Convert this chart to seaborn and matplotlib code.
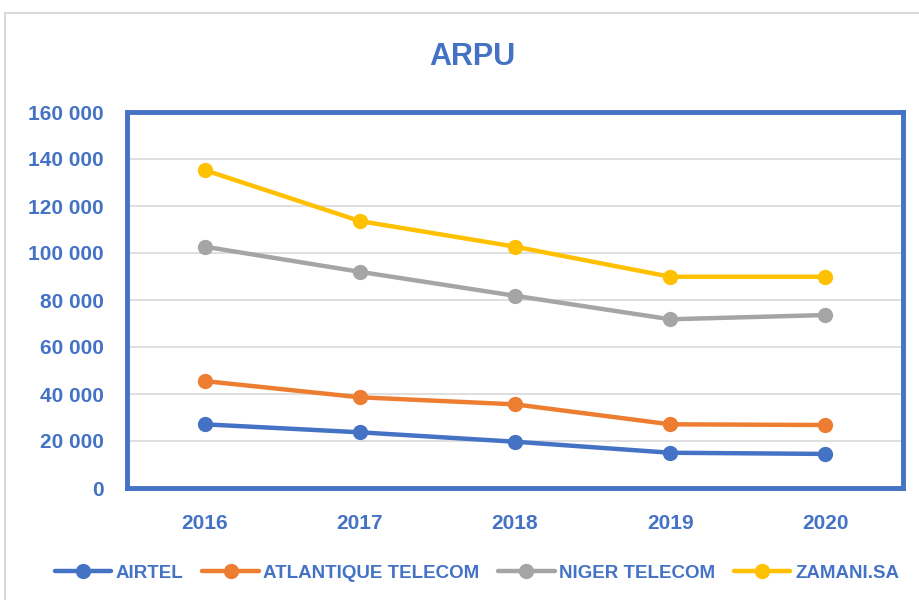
import numpy as np
import pandas as pd
import matplotlib.pyplot as plt
import matplotlib.ticker as mticker
import seaborn as sns
from matplotlib.patches import Rectangle

# donnees
annees = [2016, 2017, 2018, 2019, 2020]
airtel = [27100, 23700, 19700, 15000, 14500]
atlantique = [45500, 38600, 35600, 27100, 26800]
niger = [102700, 92000, 81800, 71800, 73600]
zamani = [135300, 113600, 102700, 89900, 89900]
operateurs = ["AIRTEL", "ATLANTIQUE TELECOM", "NIGER TELECOM", "ZAMANI.SA"]
couleurs = ["#4472C4", "#ED7D31", "#A5A5A5", "#FFC000"]

bleu = "#4472C4"

df = pd.concat([
    pd.DataFrame({"annee": annees, "arpu": v, "op": nom})
    for nom, v in zip(operateurs, [airtel, atlantique, niger, zamani])
])

sns.set_style("white")
plt.rcParams['font.family'] = ['Liberation Sans', 'DejaVu Sans']

fig = plt.figure(figsize=(9.19, 6.0), dpi=100)
ax = fig.add_axes([127/919, 1-488/600, (903-127)/919, (488-112)/600])

# cadre gris clair autour de la figure
fig.patches.append(Rectangle((5/919, -0.01), 1, 1.01-13/600, transform=fig.transFigure,
                             fill=False, edgecolor="#D9D9D9", linewidth=1.5))

sns.lineplot(data=df, x="annee", y="arpu", hue="op", palette=couleurs,
             marker="o", markersize=11, markeredgewidth=0, linewidth=3.2,
             ax=ax, zorder=3)

ax.set_xlim(2015.5, 2020.5)
ax.set_ylim(0, 160000)
ax.set_xticks(annees)
ax.set_yticks(np.arange(0, 160001, 20000))
ax.yaxis.set_major_formatter(mticker.FuncFormatter(lambda v, p: f"{int(v):,}".replace(",", " ")))
ax.grid(axis="y", color="#D9D9D9", linewidth=1.2)
ax.set_axisbelow(True)
ax.tick_params(axis="both", length=0, labelcolor=bleu, labelsize=15)
ax.tick_params(axis="y", pad=17)
ax.tick_params(axis="x", pad=19)
for lab in ax.get_xticklabels() + ax.get_yticklabels():
    lab.set_fontweight("bold")
ax.set_xlabel("")
ax.set_ylabel("")
for s in ax.spines.values():
    s.set_visible(True)
    s.set_color(bleu)
    s.set_linewidth(3.5)

fig.text(472/919, 1-57/600, "ARPU", ha="center", va="center", fontsize=22,
         fontweight="bold", color=bleu)

handles, labels = ax.get_legend_handles_labels()
leg = fig.legend(handles, labels, loc="center", bbox_to_anchor=(477/919, 1-573/600),
                 ncol=4, frameon=False, handlelength=3.0, columnspacing=1.0,
                 handletextpad=0.25, prop={"size": 13.5, "weight": "bold"})
for t in leg.get_texts():
    t.set_color(bleu)
ax.get_legend().remove()

fig.savefig("out.png", dpi=100)
